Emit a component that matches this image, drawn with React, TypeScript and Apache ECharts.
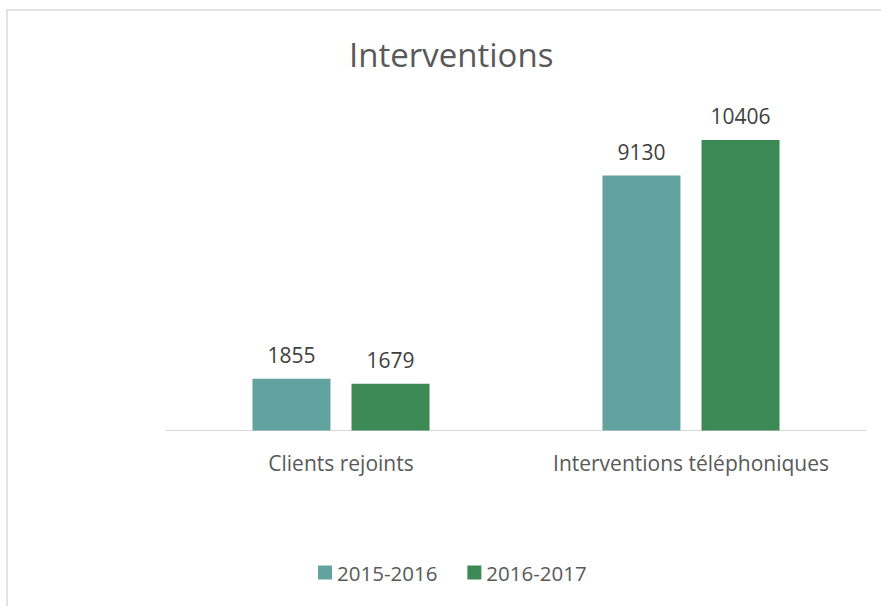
import React, { useEffect, useRef } from "react";
import * as echarts from "echarts";

const categories = ["Clients rejoints", "Interventions téléphoniques"];
const seriesNames = ["2015-2016", "2016-2017"];
const values2015 = [1855, 9130];
const values2016 = [1679, 10406];
const colors = ["#63A39F", "#3D8955"];

export default function App() {
  const ref = useRef<HTMLDivElement>(null);
  useEffect(() => {
    const chart = echarts.init(ref.current!, null, { renderer: "svg" });
    const font = "'Open Sans', 'Noto Sans', sans-serif";
    chart.setOption({
      animation: false,
      backgroundColor: "#ffffff",
      textStyle: { fontFamily: font },
      title: {
        text: "Interventions",
        left: 344,
        top: 33,
        textStyle: { fontSize: 33, fontWeight: "normal", color: "#595959", fontFamily: font },
      },
      graphic: [
        {
          type: "rect",
          shape: { x: 7, y: 10, width: 1000, height: 800 },
          style: { fill: "none", stroke: "#d9d9d9", lineWidth: 1.5 },
          silent: true,
        },
      ],
      legend: {
        bottom: 18,
        left: 313,
        itemWidth: 14,
        itemHeight: 14,
        itemGap: 30,
        icon: "rect",
        textStyle: { fontSize: 20.5, color: "#595959", fontFamily: font },
        data: seriesNames,
      },
      grid: { left: 166, right: 15, top: 95.5, bottom: 175.5 },
      xAxis: {
        type: "category",
        data: categories,
        axisLine: { lineStyle: { color: "#d9d9d9", width: 1 } },
        axisTick: { show: false },
        axisLabel: { interval: 0, fontSize: 21, color: "#595959", margin: 22, fontFamily: font },
      },
      yAxis: {
        type: "value",
        min: 0,
        max: 12000,
        interval: 2000,
        show: false,
        splitLine: { show: false },
      },
      series: [
        {
          name: seriesNames[0],
          type: "bar",
          data: values2015,
          itemStyle: { color: colors[0] },
          barWidth: 78,
          barGap: "27%",
          label: { show: true, position: "top", distance: 13, fontSize: 21, color: "#404040", fontFamily: font },
        },
        {
          name: seriesNames[1],
          type: "bar",
          data: values2016,
          itemStyle: { color: colors[1] },
          barWidth: 78,
          barGap: "27%",
          label: { show: true, position: "top", distance: 13, fontSize: 21, color: "#404040", fontFamily: font },
        },
      ],
    });
    return () => chart.dispose();
  }, []);
  return (
    <div
      ref={ref}
      style={{ position: "absolute", left: 0, top: 0, width: 881, height: 606 }}
    />
  );
}
